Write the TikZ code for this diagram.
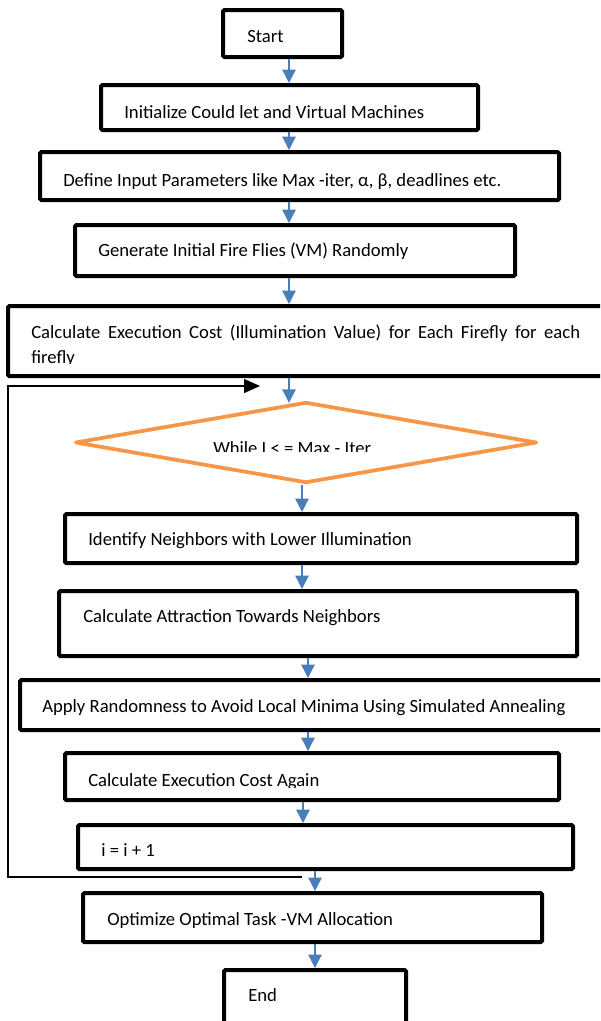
\documentclass[tikz,border=0pt]{standalone}
\usepackage{fontspec}
\setmainfont{Carlito}
\usetikzlibrary{arrows.meta,shapes.geometric}
\definecolor{arrowblue}{HTML}{4A7EBB}
\definecolor{condorange}{HTML}{F79646}
\begin{document}
\begin{tikzpicture}[x=0.75pt,y=-0.75pt,
  stepbox/.style={draw=black,line width=3pt,rounded corners=1pt,inner sep=0pt,fill=white},
  condshape/.style={shape=diamond,draw=condorange,line width=2.8pt,line join=round,inner sep=0pt},
  txt/.style={anchor=base west,inner sep=0pt,font=\fontsize{14pt}{16.5pt}\selectfont},
  flowarrow/.style={draw=arrowblue,line width=1pt,-{Triangle[length=10pt,width=10pt]}},
  looparrow/.style={draw=black,line width=1pt,-{Triangle[length=12pt,width=10.5pt]}}]
\useasboundingbox (0,0) rectangle (600,1021);
\clip (0,0) rectangle (600,1021);
% x positions of the connectors
\coordinate (x289) at (289,0);
\coordinate (x302) at (302,0);
\coordinate (x308) at (308,0);
\coordinate (x303) at (303,0);
\coordinate (x315) at (315,0);
% boxes
\node[stepbox,minimum width=89.25pt,minimum height=35.25pt] (start) at (282.5,33.5) {};
\node[stepbox,minimum width=282.75pt,minimum height=33.75pt] (init) at (289.5,107.5) {};
\node[stepbox,minimum width=389.25pt,minimum height=36pt] (define) at (299.5,176) {};
\node[stepbox,minimum width=330pt,minimum height=38.25pt] (gen) at (295,250.5) {};
\node[stepbox,minimum width=459pt,minimum height=52.5pt] (calc) at (314,341) {};
\node[condshape,minimum width=346.5pt,minimum height=60.75pt] (cond) at (306,442.5) {};
\node[stepbox,minimum width=384pt,minimum height=36.75pt] (ident) at (321,538.5) {};
\node[stepbox,minimum width=388.5pt,minimum height=48.75pt] (attr) at (318,623.5) {};
\node[stepbox,minimum width=450pt,minimum height=37.5pt] (apply) at (320,705) {};
\node[stepbox,minimum width=370.5pt,minimum height=35.25pt] (again) at (312,776.5) {};
\node[stepbox,minimum width=371.25pt,minimum height=33pt] (incr) at (325.5,847) {};
\node[stepbox,minimum width=344.25pt,minimum height=36.75pt] (optim) at (312.5,917.5) {};
\node[stepbox,minimum width=136.5pt,minimum height=52.5pt] (endbox) at (315,1005) {};
% texts
\node[txt] (tstart) at (247,42) {Start};
\node[txt] (tinit) at (124,118) {Initialize Could let and Virtual Machines};
\node[txt] (tdefine) at (63,186) {Define Input Parameters like Max -iter, α, β, deadlines etc.};
\node[txt] (tgen) at (98,256) {Generate Initial Fire Flies (VM) Randomly};
\node[txt] (tcalc) at (31,338) {\makebox[411.75pt][s]{Calculate Execution Cost (Illumination Value) for Each Firefly for each}};
\begin{scope}
\clip (0,340) rectangle (600,363);
\node[txt] (tcalcb) at (31,363) {firefly};
\end{scope}
\begin{scope}
\clip (0,420) rectangle (600,451);
\node[txt] (tcond) at (213,454) {While I < = Max - Iter};
\end{scope}
\node[txt] (tident) at (88,545) {Identify Neighbors with Lower Illumination};
\node[txt] (tattr) at (83,622) {Calculate Attraction Towards Neighbors};
\node[txt] (tapply) at (42,712) {Apply Randomness to Avoid Local Minima Using Simulated Annealing};
\begin{scope}
\clip (0,760) rectangle (600,787.5);
\node[txt] (tagain) at (88,786) {Calculate Execution Cost Again};
\end{scope}
\node[txt] (tincr) at (101,856) {i = i + 1};
\node[txt] (toptim) at (107,925) {Optimize Optimal Task -VM Allocation};
\node[txt] (tend) at (248,1001) {End};
% connectors
\draw[flowarrow] (start.south -| x289) -- (init.north -| x289);
\draw[flowarrow] (init.south -| x289) -- (define.north -| x289);
\draw[flowarrow] (define.south -| x289) -- (gen.north -| x289);
\draw[flowarrow] (gen.south -| x289) -- (calc.north -| x289);
\draw[flowarrow] (calc.south -| x289) -- ([yshift=-2pt]cond.north -| x289);
\draw[flowarrow] (cond.south -| x302) -- (ident.north -| x302);
\draw[flowarrow] (ident.south -| x302) -- (attr.north -| x302);
\draw[flowarrow] (attr.south -| x308) -- (apply.north -| x308);
\draw[flowarrow] (apply.south -| x308) -- (again.north -| x308);
\draw[flowarrow] (again.south -| x303) -- (incr.north -| x303);
\draw[flowarrow] (incr.south -| x315) -- (optim.north -| x315);
\draw[flowarrow] (optim.south -| x315) -- (endbox.north -| x315);
% loop back
\coordinate (loopstart) at (302,877);
\coordinate (loopend) at (260,386);
\draw[looparrow] (loopstart) -- (8,877) -- (8,386) -- (loopend);
\end{tikzpicture}
\end{document}
